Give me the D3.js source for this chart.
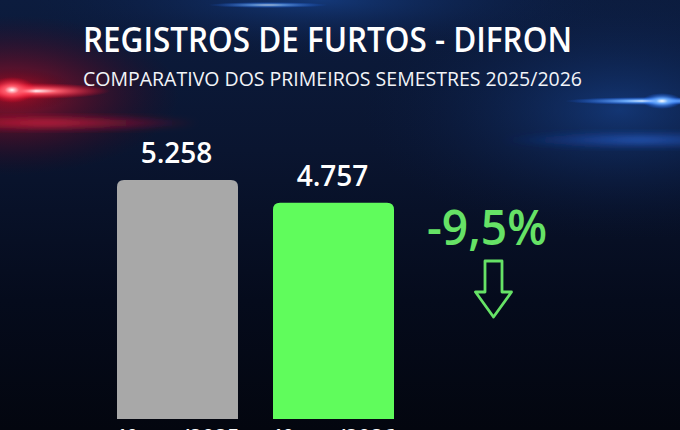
<!DOCTYPE html>
<html>
<head>
<meta charset="utf-8">
<script src="https://cdn.jsdelivr.net/npm/d3@7"></script>
<style>
  html, body { margin: 0; padding: 0; background: #050a18; }
  svg { display: block; }
  text { font-family: 'Open Sans', 'Noto Sans', sans-serif; }
</style>
</head>
<body>
<svg id="chart"></svg>
<script>
// data
const categories = ['1ºsem/2025', '1ºsem/2026'];
const values = [5258, 4757];
const valueLabels = ['5.258', '4.757'];
const barColors = ['#a8a8a8', '#60fc5c'];
const changeLabel = '-9,5%';

const width = 680, height = 430;
const svg = d3.select('#chart').attr('width', width).attr('height', height);
const defs = svg.append('defs');

// background
const bg = defs.append('linearGradient').attr('id', 'bg')
    .attr('x1', 0).attr('y1', 0).attr('x2', 0).attr('y2', 1);
bg.append('stop').attr('offset', '0%').attr('stop-color', '#0c1c3e');
bg.append('stop').attr('offset', '35%').attr('stop-color', '#0a1530');
bg.append('stop').attr('offset', '70%').attr('stop-color', '#050b1c');
bg.append('stop').attr('offset', '100%').attr('stop-color', '#03060f');
svg.append('rect').attr('width', width).attr('height', height).attr('fill', 'url(#bg)');

function glow(id, stops) {
    const g = defs.append('radialGradient').attr('id', id);
    stops.forEach(s => g.append('stop').attr('offset', s[0]).attr('stop-color', s[1]).attr('stop-opacity', s[2]));
}
glow('blueHaze', [['0%', '#1a4fa8', 0.55], ['100%', '#0a1a40', 0]]);
glow('redHaze', [['0%', '#d0102a', 0.75], ['100%', '#400010', 0]]);
glow('redCore', [['0%', '#ffffff', 1], ['30%', '#ff6070', 0.95], ['100%', '#ff0020', 0]]);
glow('blueCore', [['0%', '#ffffff', 1], ['30%', '#70b0ff', 0.95], ['100%', '#1060ff', 0]]);
glow('redStreak', [['0%', '#ff3050', 0.7], ['100%', '#ff0020', 0]]);
glow('blueStreak', [['0%', '#3a80ff', 0.6], ['100%', '#1040c0', 0]]);

defs.append('filter').attr('id', 'blur').append('feGaussianBlur').attr('stdDeviation', 3);

const lights = svg.append('g');
lights.append('ellipse').attr('cx', 620).attr('cy', 110).attr('rx', 260).attr('ry', 130).attr('fill', 'url(#blueHaze)');
lights.append('ellipse').attr('cx', 320).attr('cy', 0).attr('rx', 300).attr('ry', 60).attr('fill', 'url(#blueHaze)');
lights.append('ellipse').attr('cx', 10).attr('cy', 95).attr('rx', 170).attr('ry', 80).attr('fill', 'url(#redHaze)');
lights.append('ellipse').attr('cx', 15).attr('cy', 90).attr('rx', 60).attr('ry', 22).attr('fill', 'url(#redHaze)');
lights.append('ellipse').attr('cx', 50).attr('cy', 123).attr('rx', 150).attr('ry', 8).attr('fill', 'url(#redStreak)').attr('filter', 'url(#blur)');
lights.append('ellipse').attr('cx', 35).attr('cy', 91).attr('rx', 75).attr('ry', 8).attr('fill', 'url(#redCore)');
lights.append('ellipse').attr('cx', 12).attr('cy', 90).attr('rx', 24).attr('ry', 13).attr('fill', 'url(#redCore)');
lights.append('ellipse').attr('cx', 640).attr('cy', 140).attr('rx', 140).attr('ry', 9).attr('fill', 'url(#blueStreak)').attr('filter', 'url(#blur)');
lights.append('ellipse').attr('cx', 650).attr('cy', 101).attr('rx', 85).attr('ry', 4).attr('fill', 'url(#blueCore)');
lights.append('ellipse').attr('cx', 662).attr('cy', 101).attr('rx', 20).attr('ry', 8).attr('fill', 'url(#blueCore)');
lights.append('ellipse').attr('cx', 268).attr('cy', 5).attr('rx', 60).attr('ry', 3).attr('fill', 'url(#blueCore)').attr('opacity', 0.7);

// titles
svg.append('text')
    .attr('x', 83).attr('y', 52)
    .attr('textLength', 489).attr('lengthAdjust', 'spacingAndGlyphs')
    .style('font-size', '35px').style('font-weight', 600)
    .attr('fill', '#ffffff')
    .text('REGISTROS DE FURTOS - DIFRON');

svg.append('text')
    .attr('x', 83).attr('y', 86)
    .attr('textLength', 499).attr('lengthAdjust', 'spacingAndGlyphs')
    .style('font-size', '20px')
    .attr('fill', '#f2f4f8')
    .text('COMPARATIVO DOS PRIMEIROS SEMESTRES 2025/2026');

// scales
const xscale = d3.scaleBand()
    .domain(categories)
    .range([117, 394])
    .paddingInner(0.2244)
    .paddingOuter(0);

const yscale = d3.scaleLinear()
    .domain([0, d3.max(values)])
    .range([419, 180]);

const data = categories.map((c, i) => ({ cat: c, value: values[i], label: valueLabels[i], color: barColors[i] }));

function topRoundedBar(x, y, w, h, r) {
    return `M${x},${y + h} V${y + r} Q${x},${y} ${x + r},${y} H${x + w - r} Q${x + w},${y} ${x + w},${y + r} V${y + h} Z`;
}

const chart = svg.append('g');

chart.selectAll('.bar')
    .data(data)
    .join('path')
    .attr('class', 'bar')
    .attr('d', d => topRoundedBar(xscale(d.cat), yscale(d.value), xscale.bandwidth(), yscale(0) - yscale(d.value), 7))
    .attr('fill', d => d.color);

chart.selectAll('.value')
    .data(data)
    .join('text')
    .attr('class', 'value')
    .attr('x', d => xscale(d.cat) + xscale.bandwidth() / 2 - 1)
    .attr('y', d => yscale(d.value) - 17)
    .attr('text-anchor', 'middle')
    .style('font-size', '28px').style('font-weight', 600)
    .attr('fill', '#ffffff')
    .text(d => d.label);

// x axis labels (cut off at bottom edge, as in the original)
const xaxis = d3.axisBottom(xscale).tickSize(0).tickPadding(10);
const xaxisGroup = chart.append('g')
    .attr('transform', `translate(0, ${yscale(0)})`)
    .call(xaxis);
xaxisGroup.select('.domain').remove();
xaxisGroup.selectAll('text')
    .attr('fill', '#ffffff')
    .style('font-size', '22px')
    .style('font-weight', 600)
    .style('font-family', "'Open Sans', sans-serif");

// variation
svg.append('text')
    .attr('x', 427).attr('y', 245)
    .attr('textLength', 120).attr('lengthAdjust', 'spacingAndGlyphs')
    .style('font-size', '48px').style('font-weight', 600)
    .attr('fill', '#66e266')
    .text(changeLabel);

const ax = 493.5;
svg.append('path')
    .attr('d', `M${ax - 8.5},${261} H${ax + 8.5} V${292} H${ax + 18} L${ax},${317} L${ax - 18},${292} H${ax - 8.5} Z`)
    .attr('fill', 'none')
    .attr('stroke', '#66e266')
    .attr('stroke-width', 2.8)
    .attr('stroke-linejoin', 'round');
</script>
</body>
</html>
